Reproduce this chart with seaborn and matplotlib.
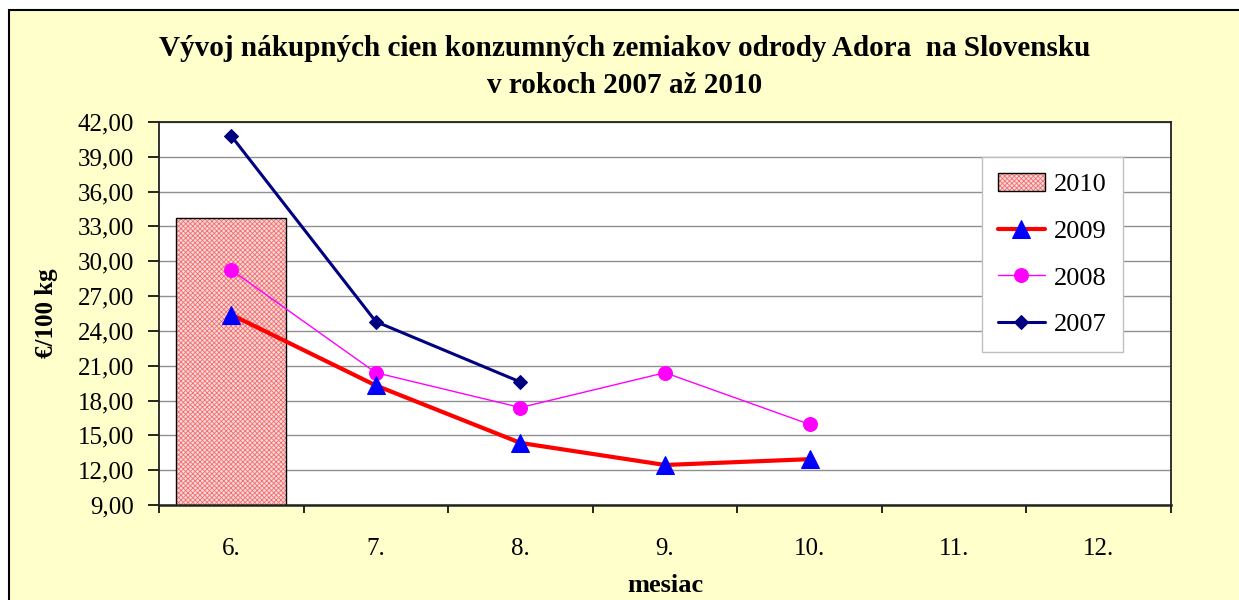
import numpy as np
import pandas as pd
import seaborn as sns
from matplotlib import pyplot as plt
from matplotlib import patches as mpatches
from matplotlib.colors import to_rgba
from matplotlib.ticker import FixedLocator, FuncFormatter

# data
months = ['6.', '7.', '8.', '9.', '10.', '11.', '12.']
price_2010 = [33.76, np.nan, np.nan, np.nan, np.nan, np.nan, np.nan]
price_2009 = [25.40, 19.30, 14.35, 12.45, 12.95]
price_2008 = [29.25, 20.40, 17.40, 20.40, 15.95]
price_2007 = [40.80, 24.80, 19.60]
y_ticks = [9, 12, 15, 18, 21, 24, 27, 30, 33, 36, 39, 42]

title = 'Vývoj nákupných cien konzumných zemiakov odrody Adora  na Slovensku\nv rokoch 2007 až 2010'


def draw_chart():
    sns.set_style('white')
    plt.rcParams['font.family'] = ['Liberation Serif', 'DejaVu Serif']
    plt.rcParams['hatch.linewidth'] = 0.6
    for key in ['text.color', 'axes.labelcolor', 'xtick.color', 'ytick.color']:
        plt.rcParams[key] = 'black'

    fig = plt.figure(figsize=(12.39, 6), dpi=100)
    fig.patch.set_facecolor('white')
    # outer yellow chart area with black frame
    frame = mpatches.Rectangle((9 / 1239, -0.05), 1.1, 0.983 + 0.05,
                               transform=fig.transFigure, facecolor='#FFFFCC',
                               edgecolor='black', linewidth=1.5, zorder=-10)
    fig.patches.append(frame)

    ax = fig.add_axes([0.1283, 0.1583, 0.8168, 0.6384])
    ax.set_facecolor('white')

    # 2010 bar
    bar_df = pd.DataFrame({'mesiac': months, 'cena': price_2010})
    sns.barplot(data=bar_df, x='mesiac', y='cena', order=months, width=0.76,
                color='#f6a8a8', ax=ax, label='2010', zorder=2)
    for p in ax.patches:
        p.set_facecolor('#fcd8d8')
        p.set_edgecolor('black')
        p.set_linewidth(1.0)
        p.set_hatch('xxxxxxx')
        p._hatch_color = to_rgba('#f07070')

    pos = list(range(len(months)))
    sns.lineplot(x=pos[:len(price_2009)], y=price_2009, color='red', lw=3,
                 marker='^', ms=12.5, mfc='blue', mec='blue', label='2009', ax=ax, zorder=4)
    sns.lineplot(x=pos[:len(price_2008)], y=price_2008, color='#ff00ff', lw=1,
                 marker='o', ms=10, mfc='#ff00ff', mec='#ff00ff', label='2008', ax=ax, zorder=3)
    sns.lineplot(x=pos[:len(price_2007)], y=price_2007, color='#000080', lw=2.2,
                 marker='D', ms=7.5, mfc='#000080', mec='#000080', label='2007', ax=ax, zorder=5)

    ax.set_xlim(-0.5, len(months) - 0.5)
    ax.set_ylim(y_ticks[0], y_ticks[-1])
    ax.set_xticks(pos)
    ax.set_xticklabels(months)
    ax.xaxis.set_minor_locator(FixedLocator(np.arange(-0.5, len(months), 1.0)))
    ax.tick_params(axis='x', which='major', length=0, pad=24, labelsize=18)
    ax.tick_params(axis='x', which='minor', length=6, width=1.2, direction='out', bottom=True)
    ax.set_yticks(y_ticks)
    ax.yaxis.set_major_formatter(FuncFormatter(lambda v, _: f'{v:.2f}'.replace('.', ',')))
    ax.tick_params(axis='y', length=8, width=1.2, direction='out', left=True, pad=10, labelsize=18)
    ax.yaxis.grid(True, color='#909090', lw=1)
    ax.xaxis.grid(False)
    ax.set_axisbelow(True)
    for s in ax.spines.values():
        s.set_color('#222222')
        s.set_linewidth(1.3)
    ax.spines['bottom'].set_linewidth(1.8)

    ax.set_xlabel('mesiac', fontsize=19, fontweight='bold', labelpad=10)
    ax.set_ylabel('€/100 kg', fontsize=18, fontweight='bold', labelpad=14)

    fig.text(0.504, 0.888, title, ha='center', va='center', fontsize=21,
             fontweight='bold', linespacing=1.45)

    handles, labels = ax.get_legend_handles_labels()
    order = [labels.index(l) for l in ['2010', '2009', '2008', '2007']]
    leg = ax.legend([handles[i] for i in order], [labels[i] for i in order],
                    loc='upper left', bbox_to_anchor=(0.813, 0.909), fontsize=19,
                    frameon=True, fancybox=False, framealpha=1, edgecolor='#c0c0c0',
                    borderpad=0.6, labelspacing=0.88, handlelength=1.8,
                    handletextpad=0.35, borderaxespad=0)
    leg.get_frame().set_linewidth(1.0)

    fig.savefig('out.png', dpi=100, facecolor=fig.get_facecolor())


if __name__ == '__main__':
    draw_chart()
